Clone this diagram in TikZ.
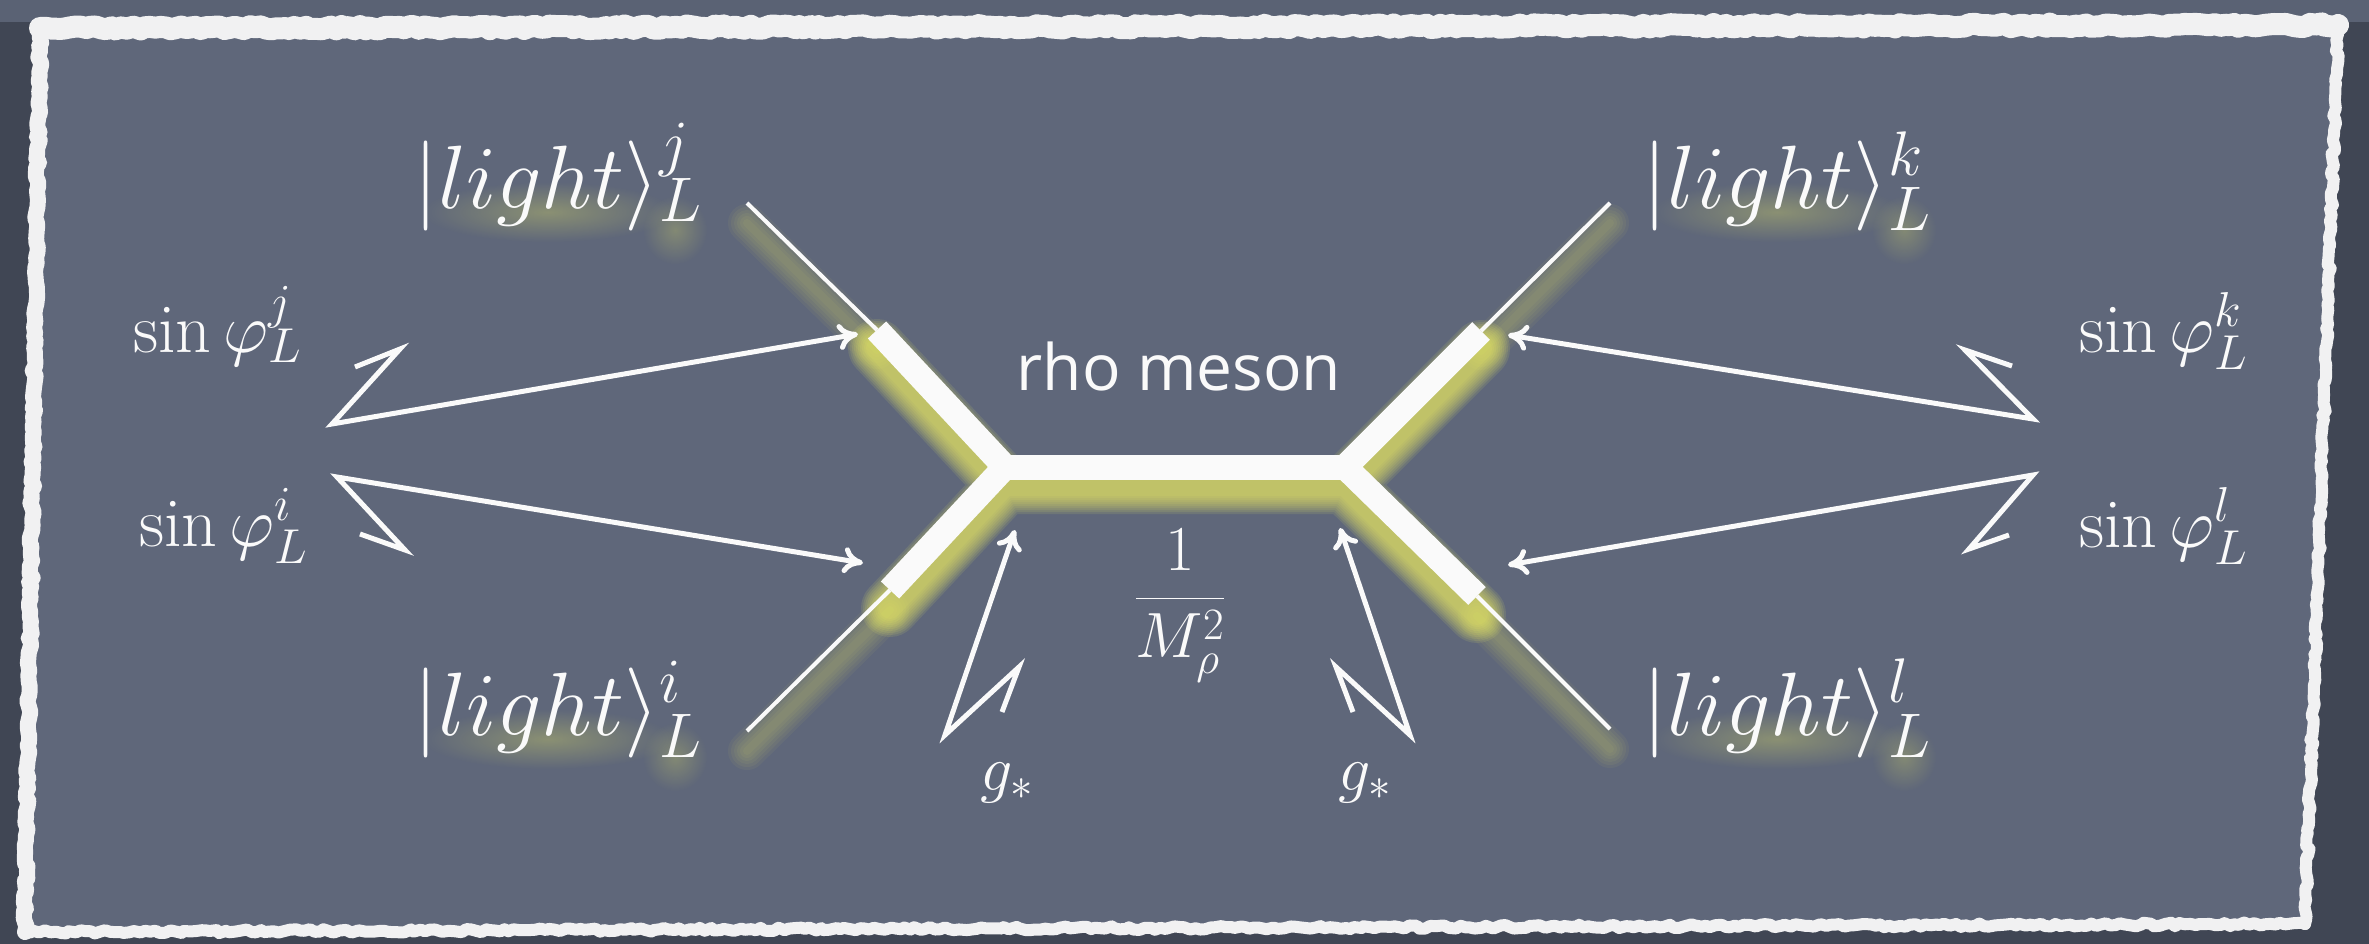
\RequirePackage{fix-cm}
\documentclass[tikz,border=0pt]{standalone}
\usepackage{fontspec}
\newfontfamily\rhofont{Open Sans}
\usetikzlibrary{arrows.meta,decorations.pathmorphing,fadings}
\definecolor{board}{RGB}{95,103,122}
\definecolor{boardout}{RGB}{64,70,84}
\definecolor{glowc}{RGB}{240,240,100}
\definecolor{chalk}{RGB}{250,250,250}
\tikzfading[name=softglow, inner color=transparent!0, outer color=transparent!100]
\tikzset{
  torn/.style={draw=chalk!94!board, decorate, decoration={random steps, segment length=5pt, amplitude=1.8pt}, line cap=round, line join=round},
  leg/.style={draw=chalk, line width=4pt},
  bar/.style={draw=chalk, line width=25pt, line join=miter},
  ptr/.style={draw=chalk, line width=5pt, line join=miter, miter limit=6, -{Computer Modern Rightarrow[length=20pt,width=26pt]}},
  halo/.style={draw=glowc, line cap=round, line join=round},
  blob/.style={fill=glowc, path fading=softglow},
  big/.style={text=chalk, inner sep=0pt, anchor=base west, font=\fontsize{90}{100}\selectfont},
  mid/.style={text=chalk, inner sep=0pt, anchor=base west, font=\fontsize{70}{78}\selectfont},
  sml/.style={text=chalk, inner sep=0pt, font=\fontsize{64}{72}\selectfont},
}
\begin{document}
\begin{tikzpicture}[x=1pt,y=-1pt]
\useasboundingbox (0,0) rectangle (2369,944);
% board
\fill[boardout] (0,0) rectangle (2369,944);
\fill[board!85!boardout] (0,0) rectangle (2369,22);
\fill[board] (40,27) -- (2338,24) -- (2305,924) -- (25,932) -- cycle;
\pgfmathsetseed{11}
\draw[torn, line width=22pt] (40,28) -- (2338,25);
\draw[torn, line width=12pt] (2338,25) -- (2305,924);
\draw[torn, line width=12pt] (2305,924) -- (25,932);
\draw[torn, line width=16pt] (25,932) -- (40,28);

% diagram points
\coordinate (V1) at (1005,467);
\coordinate (V2) at (1345,467);
\coordinate (ULt) at (877,330);
\coordinate (ULe) at (747,203);
\coordinate (LLt) at (890,590);
\coordinate (LLe) at (747,731);
\coordinate (URt) at (1481,331);
\coordinate (URe) at (1610,203);
\coordinate (LRt) at (1477,596);
\coordinate (LRe) at (1610,729);

% glow
\begin{scope}[transform canvas={yshift=-20pt}]
  \foreach \w in {8,14,20,26,32,38}
    \draw[halo, line width=\w pt, opacity=0.05] (ULe) -- (ULt) (LLe) -- (LLt) (URe) -- (URt) (LRe) -- (LRt);
\end{scope}
\begin{scope}[transform canvas={yshift=-18pt}]
  \foreach \w in {22,26,...,58}
    \draw[halo, line width=\w pt, opacity=0.11] (ULt) -- (V1) -- (LLt) (URt) -- (V2) -- (LRt) (V1) -- (V2);
\end{scope}
% text glow
\foreach \x/\y in {413/208, 413/735, 1642/208, 1642/735} {
  \fill[blob, opacity=0.30] (\x+135,\y+4) ellipse (125pt and 30pt);
  \fill[blob, opacity=0.25] (\x+262,\y+22) ellipse (32pt and 34pt);
}

% legs and bars
\draw[leg] (ULt) -- (ULe);
\draw[leg] (LLt) -- (LLe);
\draw[leg] (URt) -- (URe);
\draw[leg] (LRt) -- (LRe);
\draw[bar] (ULt) -- (V1) -- (LLt);
\draw[bar] (URt) -- (V2) -- (LRt);
\draw[bar, line cap=butt] (V1) -- (V2);

% labels
\node[big] (lj) at (413,208) {$|light\rangle^{j}_{L}$};
\node[big] (li) at (413,735) {$|light\rangle^{i}_{L}$};
\node[big] (lk) at (1642,208) {$|light\rangle^{k}_{L}$};
\node[big] (ll) at (1642,735) {$|light\rangle^{l}_{L}$};
\node[mid] (sj) at (133,352) {$\sin\varphi^{j}_{L}$};
\node[mid] (si) at (139,546) {$\sin\varphi^{i}_{L}$};
\node[mid] (sk) at (2079,352) {$\sin\varphi^{k}_{L}$};
\node[mid] (sl) at (2079,547) {$\sin\varphi^{l}_{L}$};
\node[text=chalk, inner sep=0pt, anchor=base, font=\rhofont\fontsize{64}{70}\selectfont] (rho) at (1179,390) {rho meson};
\node[sml, anchor=base] (frac) at (1180,614) {$\displaystyle\frac{1}{M_\rho^2}$};
\node[sml, anchor=base west] (gl) at (980,790) {$g_*$};
\node[sml, anchor=base west] (gr) at (1338,790) {$g_*$};

% arrows
\coordinate (aj0) at (355,367); \coordinate (aj1) at (400,349); \coordinate (aj2) at (332,424); \coordinate (tj) at (858,334);
\coordinate (ai0) at (360,534); \coordinate (ai1) at (405,550); \coordinate (ai2) at (337,477); \coordinate (ti) at (863,563);
\coordinate (ak0) at (2012,366); \coordinate (ak1) at (1965,350); \coordinate (ak2) at (2033,419); \coordinate (tk) at (1508,335);
\coordinate (al0) at (2009,535); \coordinate (al1) at (1969,549); \coordinate (al2) at (2033,475); \coordinate (tl) at (1508,565);
\coordinate (gl0) at (1002,712); \coordinate (gl1) at (1019,667); \coordinate (gl2) at (945,735); \coordinate (tgl) at (1015,530);
\coordinate (gr0) at (1353,712); \coordinate (gr1) at (1336,667); \coordinate (gr2) at (1410,735); \coordinate (tgr) at (1340,528);
\draw[ptr] (aj0) -- (aj1) -- (aj2) -- (tj);
\draw[ptr] (ai0) -- (ai1) -- (ai2) -- (ti);
\draw[ptr] (ak0) -- (ak1) -- (ak2) -- (tk);
\draw[ptr] (al0) -- (al1) -- (al2) -- (tl);
\draw[ptr] (gl0) -- (gl1) -- (gl2) -- (tgl);
\draw[ptr] (gr0) -- (gr1) -- (gr2) -- (tgr);
\end{tikzpicture}
\end{document}
